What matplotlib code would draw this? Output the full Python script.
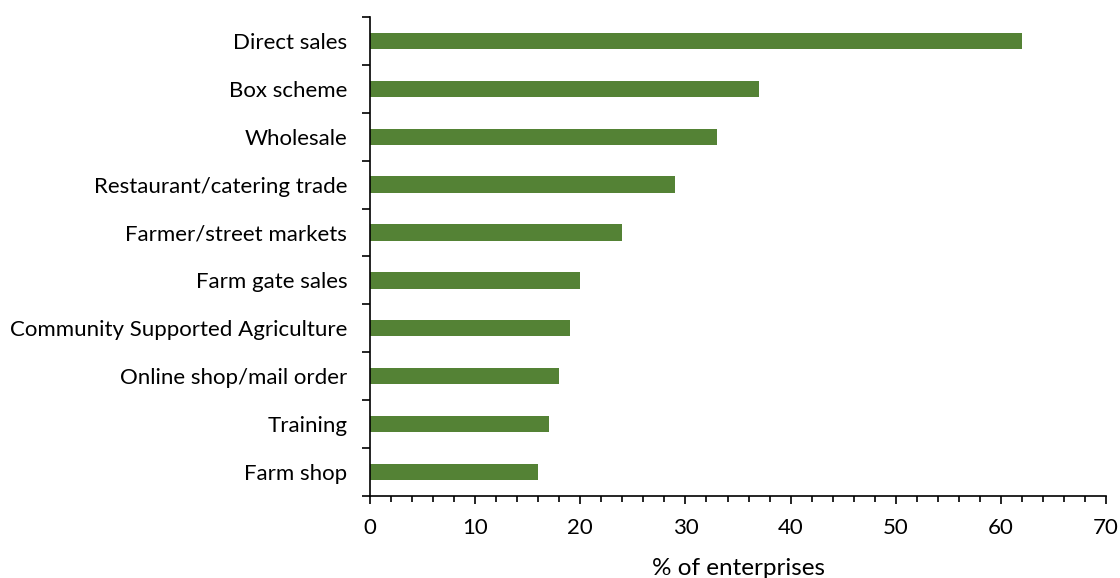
import matplotlib
matplotlib.use("Agg")
import matplotlib.pyplot as plt
import numpy as np

plt.rcParams['font.family'] = ['Lato', 'DejaVu Sans']

categories = ["Direct sales", "Box scheme", "Wholesale", "Restaurant/catering trade",
              "Farmer/street markets", "Farm gate sales", "Community Supported Agriculture",
              "Online shop/mail order", "Training", "Farm shop"]
values = [62, 37, 33, 29, 24, 20, 19, 18, 17, 16]

fig = plt.figure(figsize=(11.2, 5.78), dpi=100)
ax = fig.add_axes([0.3304, 0.1419, 0.9875 - 0.3304, 0.9706 - 0.1419])

y = np.arange(len(categories))
ax.barh(y, values, height=0.34, color="#548235")
ax.set_ylim(len(categories) - 0.5, -0.5)
ax.set_xlim(0, 70)

ax.set_yticks(y)
ax.set_yticklabels(categories, fontsize=16)
ax.set_yticks(np.arange(-0.5, len(categories), 1), minor=True)
ax.tick_params(axis='y', which='major', length=0, pad=16.5)
ax.tick_params(axis='y', which='minor', length=6, width=1.2, direction='out')

ax.set_xticks(np.arange(0, 71, 10))
ax.set_xticks(np.arange(0, 71, 2), minor=True)
ax.tick_params(axis='x', which='major', length=6, width=1.2, labelsize=16, pad=10)
ax.tick_params(axis='x', which='minor', length=4, width=1.2)
ax.set_xlabel("% of enterprises", fontsize=17.5, labelpad=14)

for s in ['top', 'right']:
    ax.spines[s].set_visible(False)
for s in ['left', 'bottom']:
    ax.spines[s].set_linewidth(1.2)

fig.savefig("out.png", dpi=100)
